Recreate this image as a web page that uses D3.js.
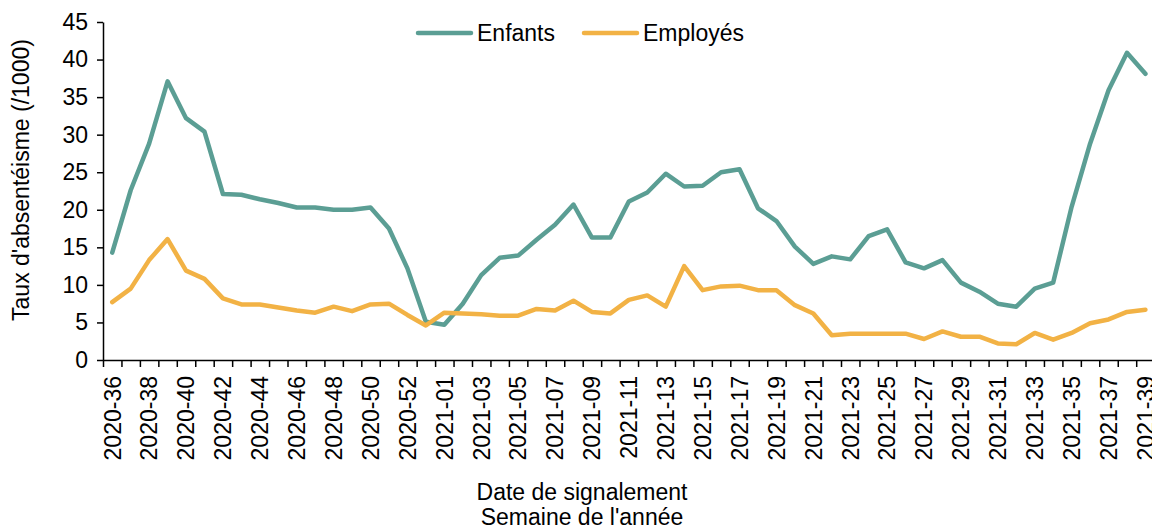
<!DOCTYPE html>
<html>
<head>
<meta charset="utf-8">
<script src="https://cdn.jsdelivr.net/npm/d3@7"></script>
<style>
  body { margin: 0; background: #fff; }
  svg { display: block; font-family: "Liberation Sans", Arial, sans-serif; }
</style>
</head>
<body>
<svg width="1152" height="529"></svg>
<script>
const weeks = [
  "2020-36", "2020-37", "2020-38", "2020-39", "2020-40", "2020-41", "2020-42", "2020-43", "2020-44",
  "2020-45", "2020-46", "2020-47", "2020-48", "2020-49", "2020-50", "2020-51", "2020-52", "2020-53",
  "2021-01", "2021-02", "2021-03", "2021-04", "2021-05", "2021-06", "2021-07", "2021-08", "2021-09",
  "2021-10", "2021-11", "2021-12", "2021-13", "2021-14", "2021-15", "2021-16", "2021-17", "2021-18",
  "2021-19", "2021-20", "2021-21", "2021-22", "2021-23", "2021-24", "2021-25", "2021-26", "2021-27",
  "2021-28", "2021-29", "2021-30", "2021-31", "2021-32", "2021-33", "2021-34", "2021-35", "2021-36",
  "2021-37", "2021-38", "2021-39"
];

const enfants = [
  14.3, 22.6, 28.8, 37.1, 32.2, 30.4, 22.1, 22.0, 21.4,
  20.9, 20.3, 20.3, 20.0, 20.0, 20.3, 17.5, 12.2, 5.1,
  4.7, 7.5, 11.3, 13.6, 13.9, 16.0, 18.0, 20.7, 16.3,
  16.3, 21.1, 22.3, 24.8, 23.1, 23.2, 25.0, 25.4, 20.2,
  18.5, 15.1, 12.8, 13.8, 13.4, 16.5, 17.4, 13.0, 12.2,
  13.3, 10.3, 9.1, 7.5, 7.1, 9.5, 10.3, 20.4, 28.8,
  35.9, 40.9, 38.1
];

const employes = [
  7.7, 9.5, 13.3, 16.1, 11.9, 10.8, 8.2, 7.4, 7.4,
  7.0, 6.6, 6.3, 7.1, 6.5, 7.4, 7.5, 6.0, 4.6,
  6.3, 6.2, 6.1, 5.9, 5.9, 6.8, 6.6, 7.9, 6.4,
  6.2, 8.0, 8.6, 7.1, 12.5, 9.3, 9.8, 9.9, 9.3,
  9.3, 7.3, 6.2, 3.3, 3.5, 3.5, 3.5, 3.5, 2.8,
  3.8, 3.1, 3.1, 2.2, 2.1, 3.6, 2.7, 3.6, 4.9,
  5.4, 6.4, 6.7
];

const yTicks = [0, 5, 10, 15, 20, 25, 30, 35, 40, 45];

const series = [
  { name: "Enfants", values: enfants, color: "#5b9e94" },
  { name: "Employés", values: employes, color: "#f2b245" }
];

const svg = d3.select("svg");
const margin = { top: 22, left: 103, bottom: 169 };
const height = 529;
const plotRight = 103 + 57 * 18.45;

const x = d3.scaleBand()
  .domain(weeks)
  .range([margin.left, plotRight])
  .padding(0);

const y = d3.scaleLinear()
  .domain([0, 45])
  .range([height - margin.bottom, margin.top]);

// boundary ticks (between categories)
const xEdge = d3.scaleLinear()
  .domain([0, weeks.length])
  .range(x.range());

svg.append("g")
  .attr("transform", `translate(0,${y(0)})`)
  .call(d3.axisBottom(xEdge).tickValues(d3.range(weeks.length + 1)).tickFormat("").tickSize(7).tickSizeOuter(0))
  .call(g => g.selectAll("line, path").attr("stroke", "#000").attr("stroke-width", 1.5));

// week labels, every other one
svg.append("g")
  .attr("transform", `translate(0,${y(0)})`)
  .call(d3.axisBottom(x).tickValues(weeks.filter((d, i) => i % 2 === 0)).tickSize(0))
  .call(g => g.select(".domain").remove())
  .call(g => g.selectAll("text")
    .attr("transform", "rotate(-90)")
    .attr("text-anchor", "end")
    .attr("x", -16)
    .attr("y", 0)
    .attr("dy", "0.36em")
    .attr("fill", "#000")
    .style("font-size", "23px")
    .style("font-family", "Liberation Sans, Arial, sans-serif"));

svg.append("g")
  .attr("transform", `translate(${margin.left},0)`)
  .call(d3.axisLeft(y).tickValues(yTicks).tickSize(6).tickPadding(9).tickSizeOuter(0))
  .call(g => g.selectAll("line, path").attr("stroke", "#000").attr("stroke-width", 1.5))
  .call(g => g.selectAll("text")
    .attr("fill", "#000")
    .style("font-size", "23px")
    .style("font-family", "Liberation Sans, Arial, sans-serif"));

const line = d3.line()
  .x((d, i) => x(weeks[i]) + x.bandwidth() / 2)
  .y(d => y(d));

svg.append("g")
  .selectAll("path")
  .data(series)
  .join("path")
  .attr("fill", "none")
  .attr("stroke", d => d.color)
  .attr("stroke-width", 4.5)
  .attr("stroke-linejoin", "round")
  .attr("stroke-linecap", "round")
  .attr("d", d => line(d.values));

// axis titles
svg.append("text")
  .attr("transform", "translate(29,180) rotate(-90)")
  .attr("text-anchor", "middle")
  .style("font-size", "23px")
  .text("Taux d'absentéisme (/1000)");

svg.append("text")
  .attr("x", 582)
  .attr("y", 500)
  .attr("text-anchor", "middle")
  .style("font-size", "23px")
  .text("Date de signalement");

svg.append("text")
  .attr("x", 582)
  .attr("y", 525)
  .attr("text-anchor", "middle")
  .style("font-size", "23px")
  .text("Semaine de l'année");

// legend
const legendX = [418, 584];
const legend = svg.append("g")
  .selectAll("g")
  .data(series)
  .join("g")
  .attr("transform", (d, i) => `translate(${legendX[i]},33)`);

legend.append("line")
  .attr("x1", 0)
  .attr("x2", 53)
  .attr("stroke", d => d.color)
  .attr("stroke-width", 4.5)
  .attr("stroke-linecap", "round");

legend.append("text")
  .attr("x", 59)
  .attr("y", 8)
  .style("font-size", "23px")
  .text(d => d.name);
</script>
</body>
</html>
